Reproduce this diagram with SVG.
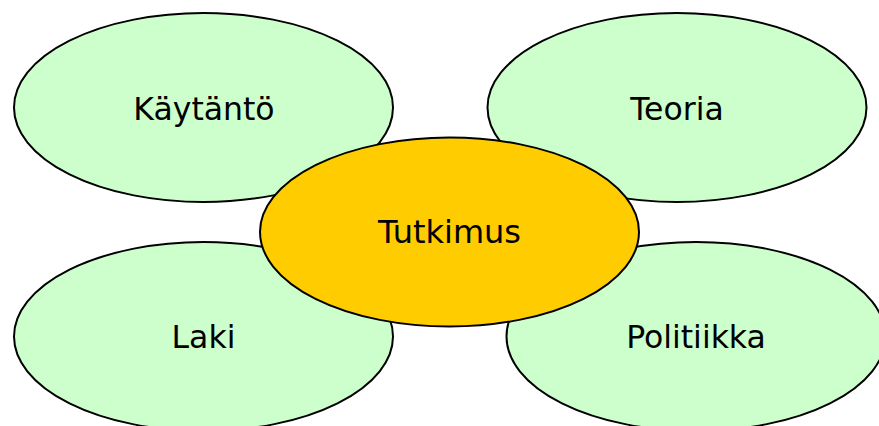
<svg xmlns="http://www.w3.org/2000/svg" width="879" height="426" viewBox="0 0 879 426">
<style>
.n{fill:#ccffcc;stroke:#000;stroke-width:2}
.c{fill:#ffcc00;stroke:#000;stroke-width:2}
text{font-family:"DejaVu Sans",Verdana,sans-serif;font-size:31.5px;fill:#000;text-anchor:middle}
text.t{font-size:32px}
</style>
<rect width="879" height="426" fill="#fff"/>
<g id="connectors"></g>
<g id="kaytanto"><ellipse class="n" cx="203.5" cy="107.5" rx="189.5" ry="94.5"/><text x="204" y="120">Käytäntö</text></g>
<g id="teoria"><ellipse class="n" cx="677" cy="107.5" rx="189.5" ry="94.5"/><text x="677" y="119.5">Teoria</text></g>
<g id="laki"><ellipse class="n" cx="203.5" cy="336.5" rx="189.5" ry="94.5"/><text x="203.5" y="348">Laki</text></g>
<g id="politiikka"><ellipse class="n" cx="696" cy="336.5" rx="189.5" ry="94.5"/><text x="696" y="348">Politiikka</text></g>
<g id="tutkimus"><ellipse class="c" cx="449.5" cy="232" rx="189.5" ry="94.5"/><text class="t" x="449.5" y="243">Tutkimus</text></g>
</svg>
